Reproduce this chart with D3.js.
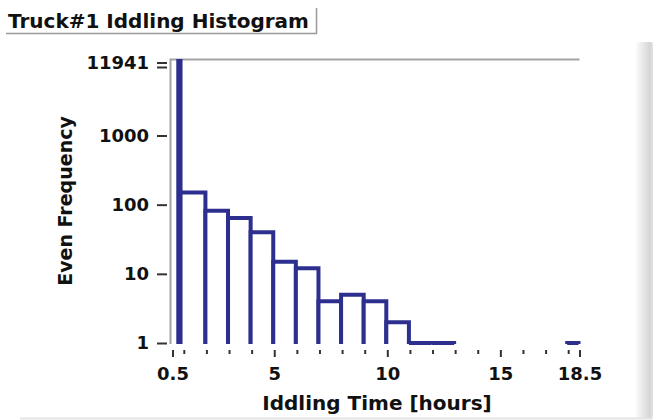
<!DOCTYPE html>
<html>
<head>
<meta charset="utf-8">
<script src="https://cdn.jsdelivr.net/npm/d3@7"></script>
<style>
  html, body { margin: 0; padding: 0; background: #ffffff; }
  svg { display: block; }
  text { font-family: "DejaVu Sans", Verdana, sans-serif; font-weight: bold; fill: #111; }
</style>
</head>
<body>
<div id="chart"></div>
<script>
// ---- data ----
const title = "Truck#1 Iddling Histogram";
const xLabel = "Iddling Time [hours]";
const yLabel = "Even Frequency";
const binStart = [0.8, 0.9, 2, 3, 4, 5, 6, 7, 8, 9, 10, 11, 12, 18];
const binEnd   = [0.9, 2, 3, 4, 5, 6, 7, 8, 9, 10, 11, 12, 13, 18.5];
const frequency = [11941, 150, 82, 64, 40, 15, 12, 4, 5, 4, 2, 1, 1, 1];
const yTicks = [1, 10, 100, 1000, 11941];
const xMajorTicks = [0.5, 5, 10, 15, 18.5];
const xMinorTicks = [1, 2, 3, 4, 6, 7, 8, 9, 11, 12, 13, 14, 16, 17, 18];

const W = 653, H = 420;
const svg = d3.select("#chart").append("svg").attr("width", W).attr("height", H);

const defs = svg.append("defs");
const grad = defs.append("linearGradient").attr("id", "strip").attr("x1", "0").attr("x2", "1").attr("y1", "0").attr("y2", "0");
grad.append("stop").attr("offset", "0%").attr("stop-color", "#fbfbfb");
grad.append("stop").attr("offset", "80%").attr("stop-color", "#d6d6d6");
grad.append("stop").attr("offset", "100%").attr("stop-color", "#e2e2e2");

// right panel strip & bottom line
svg.append("rect").attr("x", 636).attr("y", 42).attr("width", 17).attr("height", 376)
  .attr("rx", 2).attr("fill", "url(#strip)");
svg.append("line").attr("x1", 20).attr("x2", W).attr("y1", 418.5).attr("y2", 418.5)
  .attr("stroke", "#e4e4e4").attr("stroke-width", 2);

// title with underline box
svg.append("text").attr("x", 8).attr("y", 28).attr("font-size", 20).text(title);
svg.append("path").attr("d", "M6,33.5 H317 M316.5,8 V33.5")
  .attr("fill", "none").attr("stroke", "#9a9a9a").attr("stroke-width", 1.5);

// scales
const x = d3.scaleLinear().domain([0.5, 18.5]).range([172.5, 579.5]);
const y = d3.scaleLog().domain([1, 11941]).range([343, 61]);
const base = y(1);

// plot frame (left & top)
svg.append("path")
  .attr("d", `M170.5,${base + 1} V${y.range()[1] - 1.5} H${x(18.5)}`)
  .attr("fill", "none").attr("stroke", "#a3a3a3").attr("stroke-width", 2);

// bars
const bars = binStart.map((s, i) => ({ x0: s, x1: binEnd[i], v: frequency[i] }));
svg.append("g").attr("transform", "translate(-1,0)")
  .selectAll("path").data(bars).join("path")
  .attr("d", d => `M${x(d.x0)},${base + 1} V${y(d.v)} H${x(d.x1)} V${base + 1}`)
  .attr("fill", "#ffffff")
  .attr("stroke", "#2c2f8e")
  .attr("stroke-width", 4)
  .attr("stroke-linejoin", "miter");

// y axis
const yAxis = svg.append("g").attr("transform", "translate(167,0)")
  .call(d3.axisLeft(y).tickValues(yTicks).tickFormat(d3.format("d")).tickSize(10).tickPadding(8));
yAxis.select(".domain").remove();
yAxis.selectAll("line").attr("stroke", "#333").attr("stroke-width", 2);
yAxis.selectAll("text").attr("font-size", 18).style("font-family", "DejaVu Sans").style("font-weight", "bold").attr("fill", "#111");
// max tick shown as double mark
yAxis.selectAll(".tick").filter(d => d === 11941)
  .each(function (d) {
    const g = d3.select(this);
    g.select("line").attr("transform", "translate(0,1.5)");
    g.append("line").attr("x2", -10).attr("y1", 6).attr("y2", 6).attr("stroke", "#333").attr("stroke-width", 2);
    g.select("text").attr("transform", "translate(0,2)");
  });

// x axis major
const xAxis = svg.append("g").attr("transform", "translate(0,350)")
  .call(d3.axisBottom(x).tickValues(xMajorTicks).tickFormat(d => String(d)).tickSize(7).tickPadding(10));
xAxis.select(".domain").remove();
xAxis.selectAll("line").attr("stroke", "#333").attr("stroke-width", 2);
xAxis.selectAll("text").attr("font-size", 18).style("font-family", "DejaVu Sans").style("font-weight", "bold").attr("fill", "#111");
// x axis minor
const xMinor = svg.append("g").attr("transform", "translate(0,350)")
  .call(d3.axisBottom(x).tickValues(xMinorTicks).tickFormat("").tickSize(4));
xMinor.select(".domain").remove();
xMinor.selectAll("line").attr("stroke", "#333").attr("stroke-width", 2);

// axis titles
svg.append("text").attr("x", 377).attr("y", 410).attr("text-anchor", "middle").attr("font-size", 20).text(xLabel);
svg.append("text").attr("transform", "translate(72,201) rotate(-90)").attr("text-anchor", "middle")
  .attr("font-size", 19).text(yLabel);
</script>
</body>
</html>
